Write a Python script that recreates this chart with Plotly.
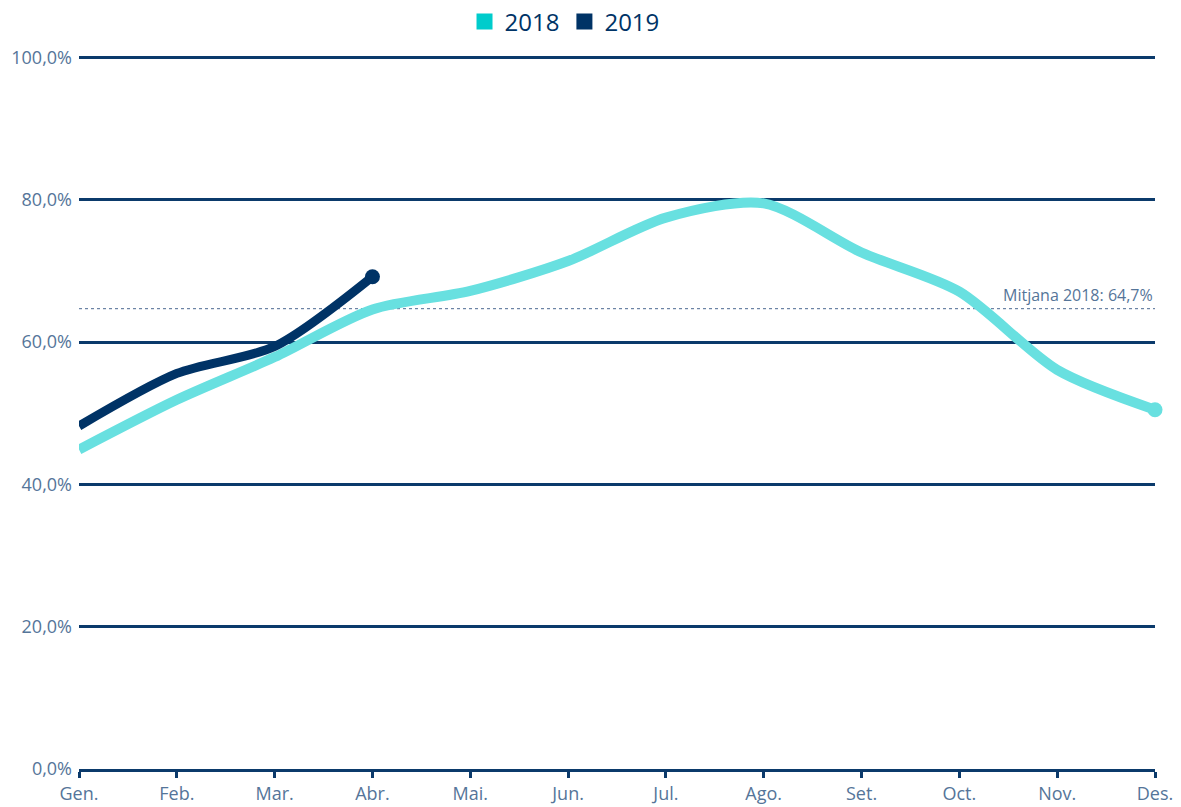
import plotly.graph_objects as go

months = ["Gen.", "Feb.", "Mar.", "Abr.", "Mai.", "Jun.", "Jul.", "Ago.", "Set.", "Oct.", "Nov.", "Des."]
values_2018 = [44.9, 51.9, 57.9, 64.6, 67.2, 71.4, 77.5, 79.5, 72.6, 67.1, 56.1, 50.5]
values_2019 = [48.2, 55.6, 59.4, 69.2]
mean_2018 = 64.7
y_ticks = [0, 20, 40, 60, 80, 100]
y_labels = ["0,0%", "20,0%", "40,0%", "60,0%", "80,0%", "100,0%"]

c2018_line = "#68E0E0"
c2018_leg = "#00CCCC"
c2019 = "#003366"
grid = "#0B3A6B"
txt = "#557599"

x18 = list(range(len(values_2018)))
x19 = list(range(len(values_2019)))

fig = go.Figure()
fig.add_trace(go.Scatter(
    x=x18, y=values_2018, mode="lines", line=dict(color=c2018_line, width=10, shape="spline", smoothing=0.8),
    showlegend=False, hoverinfo="skip"))
fig.add_trace(go.Scatter(
    x=[x18[-1]], y=[values_2018[-1]], mode="markers", cliponaxis=False, opacity=1,
    marker=dict(size=15, color=c2018_line, opacity=1, line=dict(width=0)), showlegend=False, hoverinfo="skip"))
fig.add_trace(go.Scatter(
    x=x19, y=values_2019, mode="lines", line=dict(color=c2019, width=9, shape="spline", smoothing=0.8),
    showlegend=False, hoverinfo="skip"))
fig.add_trace(go.Scatter(
    x=[x19[-1]], y=[values_2019[-1]], mode="markers", cliponaxis=False, opacity=1,
    marker=dict(size=15, color=c2019, opacity=1, line=dict(width=0)), showlegend=False, hoverinfo="skip"))
fig.add_trace(go.Scatter(x=[None], y=[None], mode="markers", name="2018",
                         marker=dict(symbol="square", size=17, color=c2018_leg)))
fig.add_trace(go.Scatter(x=[None], y=[None], mode="markers", name="2019",
                         marker=dict(symbol="square", size=17, color=c2019)))

fig.add_shape(type="line", xref="x", yref="y", x0=0, x1=len(months)-1, y0=mean_2018, y1=mean_2018,
              line=dict(color="#4A6890", width=1, dash="dot"), layer="below")
fig.add_annotation(x=len(months)-1, y=mean_2018, xref="x", yref="y", text="Mitjana 2018: 64,7%",
                   showarrow=False, xanchor="right", yanchor="bottom", yshift=1,
                   font=dict(size=16, color=txt, family="Open Sans"))

fig.update_layout(
    width=1181, height=807,
    margin=dict(l=79, r=26, t=54, b=38, autoexpand=False),
    paper_bgcolor="white", plot_bgcolor="white",
    hovermode=False,
    font=dict(family="Open Sans", color=txt),
    legend=dict(orientation="h", xref="container", yref="container", x=0.478, xanchor="center",
                y=1 - 22/807, yanchor="middle",
                font=dict(size=24, color=c2019), itemwidth=30, tracegroupgap=0),
)
fig.update_xaxes(
    range=[0, len(months)-1], tickvals=list(range(len(months))), ticktext=months,
    showgrid=False, zeroline=False, showline=True, linecolor=grid, linewidth=2.5,
    ticks="outside", ticklen=6, tickwidth=2.5, tickcolor=grid, automargin=False,
    ticklabelstandoff=1,
    tickfont=dict(size=18, color=txt), fixedrange=True)
fig.update_yaxes(
    range=[0, 100.5], tickvals=y_ticks, ticktext=y_labels,
    showgrid=True, gridcolor=grid, gridwidth=2.5, zeroline=False, showline=False,
    ticks="", ticklabelstandoff=6, automargin=False,
    tickfont=dict(size=18, color=txt))

fig.write_html("out.html", config={"displayModeBar": False},
               post_script="document.body.style.margin='0';")
